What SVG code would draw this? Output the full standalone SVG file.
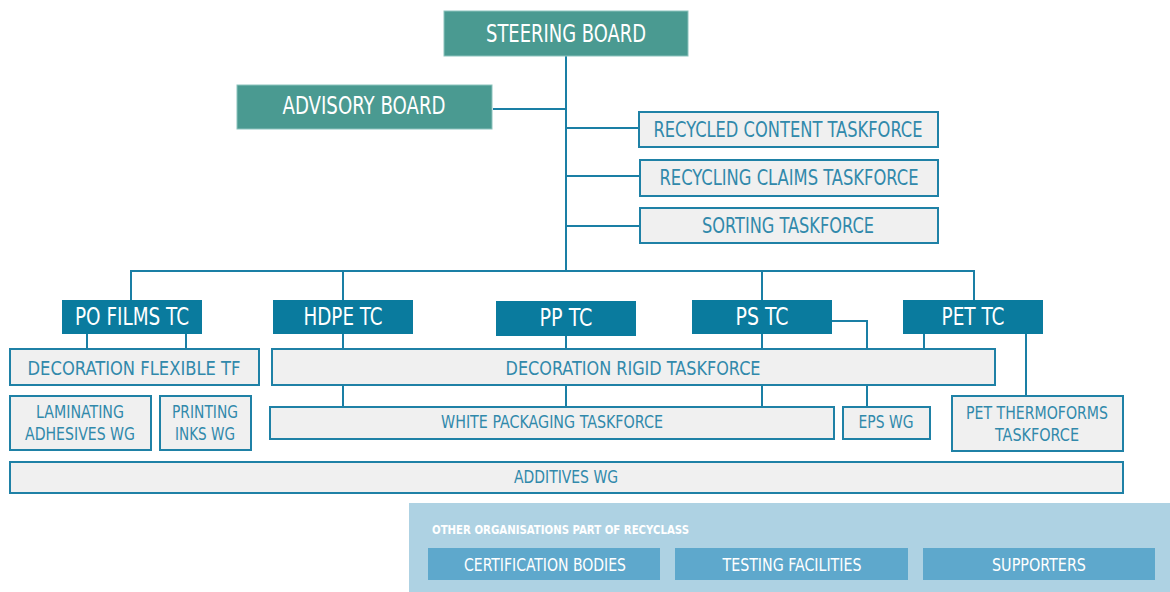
<svg xmlns="http://www.w3.org/2000/svg" width="1170" height="592" viewBox="0 0 1170 592">
<style>
text{font-family:"DejaVu Sans Condensed","Liberation Sans Narrow","Liberation Sans",sans-serif;text-anchor:middle}
.board{fill:#4a9a91;stroke:#8cc3bd;stroke-width:1}
.tc{fill:#0a7b9e}
.tf{fill:#f0f0f0;stroke:#1f81a6;stroke-width:2}
.wt{fill:#ffffff}
.bt{fill:#3189ab}
.con{fill:none;stroke:#1a7fa5;stroke-width:2}
.org{fill:#5ea8cc}
</style>
<rect x="409" y="503" width="761" height="89" fill="#aed2e3"/>
<g id="connectors" class="con">
<path d="M566 56V271"/>
<path d="M493 109H566"/>
<path d="M566 128H639M566 176H640M566 226H640"/>
<path d="M131 300V271H974V300M343 271V300M762 271V300"/>
<path d="M87 334V349M186 334V349"/>
<path d="M343 334V349M566 336V349M762 334V349M832 321H867V349M924 334V349M1026 334V396"/>
<path d="M343 386V407M566 386V407M762 386V407M867 386V407"/>
</g>
<g id="steering"><rect class="board" x="444" y="11" width="244" height="45"/><text class="wt" x="566" y="42" font-size="25" textLength="160" lengthAdjust="spacingAndGlyphs">STEERING BOARD</text></g>
<g id="advisory"><rect class="board" x="237" y="85" width="255" height="44"/><text class="wt" x="364" y="114" font-size="25" textLength="163" lengthAdjust="spacingAndGlyphs">ADVISORY BOARD</text></g>
<g id="recycled"><rect class="tf" x="639" y="112" width="299" height="35"/><text class="bt" x="788" y="137" font-size="21" textLength="269" lengthAdjust="spacingAndGlyphs">RECYCLED CONTENT TASKFORCE</text></g>
<g id="claims"><rect class="tf" x="640" y="160" width="298" height="36"/><text class="bt" x="789" y="185" font-size="21" textLength="259" lengthAdjust="spacingAndGlyphs">RECYCLING CLAIMS TASKFORCE</text></g>
<g id="sorting"><rect class="tf" x="640" y="208" width="298" height="35"/><text class="bt" x="788" y="233" font-size="21" textLength="172" lengthAdjust="spacingAndGlyphs">SORTING TASKFORCE</text></g>
<g id="pofilms"><rect class="tc" x="62" y="300" width="140" height="34"/><text class="wt" x="132" y="325" font-size="24" textLength="114" lengthAdjust="spacingAndGlyphs">PO FILMS TC</text></g>
<g id="hdpe"><rect class="tc" x="273" y="300" width="140" height="34"/><text class="wt" x="343" y="325" font-size="24" textLength="79" lengthAdjust="spacingAndGlyphs">HDPE TC</text></g>
<g id="pp"><rect class="tc" x="496" y="301" width="140" height="35"/><text class="wt" x="566" y="326" font-size="24" textLength="53" lengthAdjust="spacingAndGlyphs">PP TC</text></g>
<g id="ps"><rect class="tc" x="692" y="300" width="140" height="34"/><text class="wt" x="762" y="325" font-size="24" textLength="53" lengthAdjust="spacingAndGlyphs">PS TC</text></g>
<g id="pet"><rect class="tc" x="903" y="300" width="140" height="34"/><text class="wt" x="973" y="325" font-size="24" textLength="63" lengthAdjust="spacingAndGlyphs">PET TC</text></g>
<g id="decoflex"><rect class="tf" x="10" y="349" width="249" height="36"/><text class="bt" x="134" y="375" font-size="20" textLength="213" lengthAdjust="spacingAndGlyphs">DECORATION  FLEXIBLE TF</text></g>
<g id="decorigid"><rect class="tf" x="272" y="349" width="723" height="36"/><text class="bt" x="633" y="375" font-size="20" textLength="255" lengthAdjust="spacingAndGlyphs">DECORATION RIGID TASKFORCE</text></g>
<g id="laminating"><rect class="tf" x="10" y="396" width="141" height="54"/><text class="bt" x="80" y="418" font-size="18" textLength="88" lengthAdjust="spacingAndGlyphs">LAMINATING</text><text class="bt" x="80" y="440" font-size="18" textLength="110" lengthAdjust="spacingAndGlyphs">ADHESIVES WG</text></g>
<g id="printing"><rect class="tf" x="160" y="396" width="91" height="54"/><text class="bt" x="205" y="418" font-size="18" textLength="66" lengthAdjust="spacingAndGlyphs">PRINTING</text><text class="bt" x="205" y="440" font-size="18" textLength="60" lengthAdjust="spacingAndGlyphs">INKS WG</text></g>
<g id="white"><rect class="tf" x="270" y="407" width="564" height="32"/><text class="bt" x="552" y="428" font-size="17" textLength="222" lengthAdjust="spacingAndGlyphs">WHITE PACKAGING TASKFORCE</text></g>
<g id="eps"><rect class="tf" x="843" y="407" width="87" height="32"/><text class="bt" x="886" y="428" font-size="17" textLength="55" lengthAdjust="spacingAndGlyphs">EPS WG</text></g>
<g id="thermo"><rect class="tf" x="952" y="396" width="171" height="55"/><text class="bt" x="1037" y="419" font-size="18" textLength="142" lengthAdjust="spacingAndGlyphs">PET THERMOFORMS</text><text class="bt" x="1037" y="441" font-size="18" textLength="84" lengthAdjust="spacingAndGlyphs">TASKFORCE</text></g>
<g id="additives"><rect class="tf" x="10" y="462" width="1113" height="31"/><text class="bt" x="566" y="483" font-size="17" textLength="104" lengthAdjust="spacingAndGlyphs">ADDITIVES WG</text></g>
<g id="other"><text class="wt" x="432" y="534" font-size="12" font-weight="bold" style="text-anchor:start" textLength="257" lengthAdjust="spacingAndGlyphs">OTHER ORGANISATIONS PART OF RECYCLASS</text></g>
<g id="cert"><rect class="org" x="428" y="548" width="232" height="32"/><text class="wt" x="545" y="571" font-size="18" textLength="162" lengthAdjust="spacingAndGlyphs">CERTIFICATION BODIES</text></g>
<g id="testing"><rect class="org" x="675" y="548" width="233" height="32"/><text class="wt" x="792" y="571" font-size="18" textLength="139" lengthAdjust="spacingAndGlyphs">TESTING FACILITIES</text></g>
<g id="supporters"><rect class="org" x="923" y="548" width="232" height="32"/><text class="wt" x="1039" y="571" font-size="18" textLength="94" lengthAdjust="spacingAndGlyphs">SUPPORTERS</text></g>
</svg>
